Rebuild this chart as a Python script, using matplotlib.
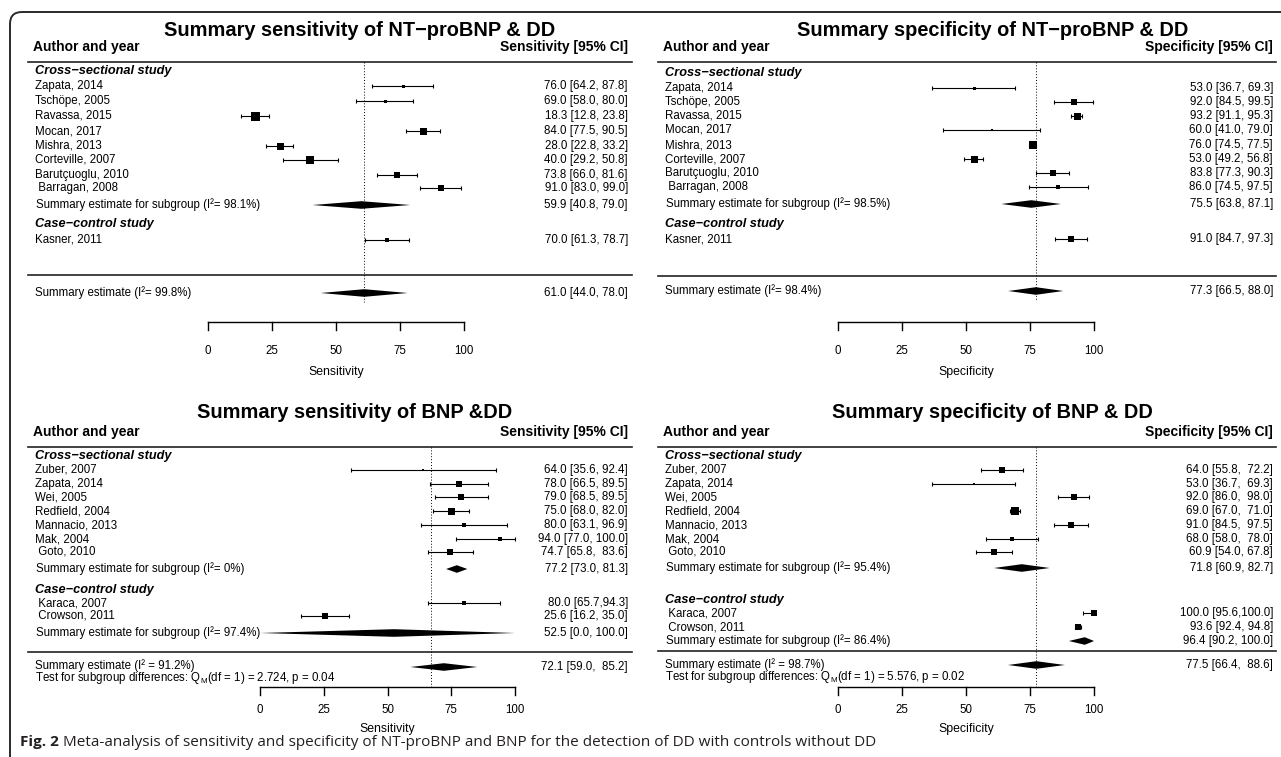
import numpy as np
import matplotlib.pyplot as plt
from matplotlib.patches import Polygon, FancyBboxPatch

plt.rcParams['font.family'] = ['Liberation Sans', 'DejaVu Sans']
plt.rcParams['mathtext.fontset'] = 'custom'
plt.rcParams['mathtext.rm'] = 'Liberation Sans'
plt.rcParams['mathtext.it'] = 'Liberation Sans:italic'

W, H = 1281, 757

# ---------------- data ----------------
# NT-proBNP studies (cross-sectional + case-control)
nt_names = ["Zapata, 2014", "Tschöpe, 2005", "Ravassa, 2015", "Mocan, 2017",
            "Mishra, 2013", "Corteville, 2007", "Barutçuoglu, 2010", " Barragan, 2008",
            "Kasner, 2011"]
nt_groups = [0, 0, 0, 0, 0, 0, 0, 0, 1]

nt_sens_est = [76.0, 69.0, 18.3, 84.0, 28.0, 40.0, 73.8, 91.0, 70.0]
nt_sens_lo = [64.2, 58.0, 12.8, 77.5, 22.8, 29.2, 66.0, 83.0, 61.3]
nt_sens_hi = [87.8, 80.0, 23.8, 90.5, 33.2, 50.8, 81.6, 99.0, 78.7]
nt_sens_labels = ["76.0 [64.2, 87.8]", "69.0 [58.0, 80.0]", "18.3 [12.8, 23.8]",
                  "84.0 [77.5, 90.5]", "28.0 [22.8, 33.2]", "40.0 [29.2, 50.8]",
                  "73.8 [66.0, 81.6]", "91.0 [83.0, 99.0]", "70.0 [61.3, 78.7]"]
nt_sens_sub = [(59.9, 40.8, 79.0, "98.1%", "59.9 [40.8, 79.0]")]
nt_sens_all = (61.0, 44.0, 78.0, "99.8%", "61.0 [44.0, 78.0]")

nt_spec_est = [53.0, 92.0, 93.2, 60.0, 76.0, 53.0, 83.8, 86.0, 91.0]
nt_spec_lo = [36.7, 84.5, 91.1, 41.0, 74.5, 49.2, 77.3, 74.5, 84.7]
nt_spec_hi = [69.3, 99.5, 95.3, 79.0, 77.5, 56.8, 90.3, 97.5, 97.3]
nt_spec_labels = ["53.0 [36.7, 69.3]", "92.0 [84.5, 99.5]", "93.2 [91.1, 95.3]",
                  "60.0 [41.0, 79.0]", "76.0 [74.5, 77.5]", "53.0 [49.2, 56.8]",
                  "83.8 [77.3, 90.3]", "86.0 [74.5, 97.5]", "91.0 [84.7, 97.3]"]
nt_spec_sub = [(75.5, 63.8, 87.1, "98.5%", "75.5 [63.8, 87.1]")]
nt_spec_all = (77.3, 66.5, 88.0, "98.4%", "77.3 [66.5, 88.0]")

# BNP studies
bnp_names = ["Zuber, 2007", "Zapata, 2014", "Wei, 2005", "Redfield, 2004",
             "Mannacio, 2013", "Mak, 2004", " Goto, 2010", " Karaca, 2007", " Crowson, 2011"]
bnp_groups = [0, 0, 0, 0, 0, 0, 0, 1, 1]

bnp_sens_est = [64.0, 78.0, 79.0, 75.0, 80.0, 94.0, 74.7, 80.0, 25.6]
bnp_sens_lo = [35.6, 66.5, 68.5, 68.0, 63.1, 77.0, 65.8, 65.7, 16.2]
bnp_sens_hi = [92.4, 89.5, 89.5, 82.0, 96.9, 100.0, 83.6, 94.3, 35.0]
bnp_sens_labels = ["64.0 [35.6, 92.4]", "78.0 [66.5, 89.5]", "79.0 [68.5, 89.5]",
                   "75.0 [68.0, 82.0]", "80.0 [63.1, 96.9]", "94.0 [77.0, 100.0]",
                   "74.7 [65.8,  83.6]", "80.0 [65.7,94.3]", "25.6 [16.2, 35.0]"]
bnp_sens_sub = [(77.2, 73.0, 81.3, "0%", "77.2 [73.0, 81.3]"),
                (52.5, 0.0, 100.0, "97.4%", "52.5 [0.0, 100.0]")]
bnp_sens_all = (72.1, 59.0, 85.2, "91.2%", "72.1 [59.0,  85.2]")
bnp_sens_ref = 67.0
bnp_sens_test = ("2.724", "0.04")

bnp_spec_est = [64.0, 53.0, 92.0, 69.0, 91.0, 68.0, 60.9, 100.0, 93.6]
bnp_spec_lo = [55.8, 36.7, 86.0, 67.0, 84.5, 58.0, 54.0, 95.6, 92.4]
bnp_spec_hi = [72.2, 69.3, 98.0, 71.0, 97.5, 78.0, 67.8, 100.0, 94.8]
bnp_spec_labels = ["64.0 [55.8,  72.2]", "53.0 [36.7,  69.3]", "92.0 [86.0,  98.0]",
                   "69.0 [67.0,  71.0]", "91.0 [84.5,  97.5]", "68.0 [58.0,  78.0]",
                   "60.9 [54.0, 67.8]", "100.0 [95.6,100.0]", "93.6 [92.4, 94.8]"]
bnp_spec_sub = [(71.8, 60.9, 82.7, "95.4%", "71.8 [60.9, 82.7]"),
                (96.4, 90.2, 100.0, "86.4%", "96.4 [90.2, 100.0]")]
bnp_spec_all = (77.5, 66.4, 88.6, "98.7%", "77.5 [66.4,  88.6]")
bnp_spec_test = ("5.576", "0.02")

group_titles = ["Cross\u2212sectional study", "Case\u2212control study"]
ticks = [0, 25, 50, 75, 100]

# box sizes (px) for the study squares
box_nt_sens = [3, 3, 9, 7, 7, 8, 6, 6, 4]
box_nt_spec = [3, 6, 7, 2, 8, 7, 6, 5, 6]
box_bnp_sens = [2, 6, 6, 7, 5, 4, 6, 5, 6]
box_bnp_spec = [6, 2, 6, 8, 6, 4, 6, 6, 6]

FS = 8.3

fig = plt.figure(figsize=(W / 100, H / 100), dpi=100)
bg = fig.add_axes([0, 0, 1, 1])
bg.set_xlim(0, W)
bg.set_ylim(H, 0)
bg.axis('off')
bg.add_patch(FancyBboxPatch((10, 12), 1400, 800, boxstyle="round,pad=0,rounding_size=12",
                            fill=False, ec='#2a2a2a', lw=1.4))


def forest(geo, lay, title, hdr, xlab, names, groups, est, lo, hi, labels, boxes,
           subs, overall, ref=None, test=None):
    x0, x100, title_x, left_x, right_x, rule_l, rule_r = geo
    s = (x100 - x0) / 100.0

    def v(px):
        return (px - x0) / s

    ax = fig.add_axes([0, 0, 1, 1])
    ax.set_xlim(v(0), v(W))
    ax.set_ylim(H, 0)
    ax.axis('off')
    ax.patch.set_alpha(0)

    ax.text(v(title_x), lay['title'], title, ha='center', va='center',
            fontsize=14.4, fontweight='bold')
    ax.text(v(left_x), lay['hdr'], "Author and year", ha='left', va='center',
            fontsize=10, fontweight='bold')
    ax.text(v(right_x), lay['hdr'], hdr, ha='right', va='center',
            fontsize=10, fontweight='bold')
    for yy in (lay['rule'], lay['rule2']):
        ax.plot([v(rule_l), v(rule_r)], [yy, yy], color='#222222', lw=1.2)

    if ref is None:
        ref = overall[0]
    ax.plot([ref, ref], [lay['rule'], lay['ref_end']], color='k', lw=0.7, ls=(0, (1, 2)))

    for g, gy in enumerate(lay['groups']):
        ax.text(v(left_x + 2), gy, group_titles[g], ha='left', va='center',
                fontsize=9.2, fontweight='bold', style='italic')

    for i, yy in enumerate(lay['rows']):
        ax.text(v(left_x + 2), yy, names[i], ha='left', va='center', fontsize=FS)
        ax.text(v(right_x), yy, labels[i], ha='right', va='center', fontsize=FS)
        ax.errorbar(est[i], yy, xerr=[[est[i] - lo[i]], [hi[i] - est[i]]], fmt='none',
                    ecolor='k', elinewidth=0.8, capsize=1.6, capthick=0.8)
        ax.scatter([est[i]], [yy], marker='s', s=(boxes[i] * 0.72) ** 2, color='k',
                   linewidths=0, zorder=3)

    hh = 3.8
    for (m, l, h, i2, lab), yy in zip(subs, lay['subs']):
        ax.add_patch(Polygon([(l, yy), (m, yy - hh), (h, yy), (m, yy + hh)],
                             closed=True, color='k', lw=0))
        ax.text(v(left_x + 3), yy, "Summary estimate for subgroup (I\u00b2= %s)" % i2,
                ha='left', va='center', fontsize=FS)
        ax.text(v(right_x), yy, lab, ha='right', va='center', fontsize=FS)

    m, l, h, i2, lab = overall
    oy = lay['overall']
    ax.add_patch(Polygon([(l, oy), (m, oy - hh), (h, oy), (m, oy + hh)],
                         closed=True, color='k', lw=0))
    ax.text(v(right_x), oy, lab, ha='right', va='center', fontsize=FS)
    if test is None:
        ax.text(v(left_x + 2), lay['overall_txt'], "Summary estimate (I\u00b2= %s)" % i2,
                ha='left', va='center', fontsize=FS)
    else:
        ax.text(v(left_x + 2), lay['overall_txt'], "Summary estimate (I\u00b2 = %s)" % i2,
                ha='left', va='center', fontsize=FS)
        ax.text(v(left_x + 2), lay['test'],
                r"Test for subgroup differences: $\mathregular{Q_{M}}$(df = 1) = %s, p = %s" % test,
                ha='left', va='center', fontsize=FS)

    ay = lay['axis']
    ax.plot([ticks[0], ticks[-1]], [ay, ay], color='k', lw=1.0)
    for t in ticks:
        ax.plot([t, t], [ay, ay + 8], color='k', lw=1.0)
        ax.text(t, lay['ticklab'], str(t), ha='center', va='center', fontsize=FS)
    ax.text(50, lay['xlab'], xlab, ha='center', va='center', fontsize=8.8)


top_lay_l = dict(title=30, hdr=47, rule=62, groups=[71, 224],
                 rows=[86, 101, 116, 131, 146, 160, 175, 188, 240],
                 subs=[205], rule2=275, overall=293, overall_txt=293,
                 axis=322, ticklab=351, xlab=372, ref_end=302)
top_lay_r = dict(title=30, hdr=47, rule=62, groups=[73, 224],
                 rows=[88, 102, 116, 130, 145, 159, 173, 187, 239],
                 subs=[204], rule2=276, overall=291, overall_txt=291,
                 axis=322, ticklab=351, xlab=372, ref_end=300)
bot_lay_l = dict(title=413, hdr=432, rule=447, groups=[456, 590],
                 rows=[470, 484, 497, 511, 525, 539, 552, 603, 616],
                 subs=[569, 633], rule2=652, overall=667, overall_txt=666, test=678,
                 axis=687, ticklab=710, xlab=729, ref_end=687)
bot_lay_r = dict(title=413, hdr=432, rule=447, groups=[456, 600],
                 rows=[470, 484, 497, 511, 525, 539, 552, 613, 627],
                 subs=[568, 641], rule2=651, overall=665, overall_txt=665, test=677,
                 axis=687, ticklab=710, xlab=729, ref_end=687)

geo_tl = (208, 464, 360, 33, 628, 28, 632)
geo_tr = (838, 1094, 993, 663, 1273, 658, 1276)
geo_bl = (260, 515, 355, 33, 628, 28, 632)
geo_br = (838, 1094, 992, 663, 1273, 658, 1276)

forest(geo_tl, top_lay_l, "Summary sensitivity of NT\u2212proBNP & DD", "Sensitivity [95% CI]",
       "Sensitivity", nt_names, nt_groups, nt_sens_est, nt_sens_lo, nt_sens_hi,
       nt_sens_labels, box_nt_sens, nt_sens_sub, nt_sens_all)
forest(geo_tr, top_lay_r, "Summary specificity of NT\u2212proBNP & DD", "Specificity [95% CI]",
       "Specificity", nt_names, nt_groups, nt_spec_est, nt_spec_lo, nt_spec_hi,
       nt_spec_labels, box_nt_spec, nt_spec_sub, nt_spec_all)
forest(geo_bl, bot_lay_l, "Summary sensitivity of BNP &DD", "Sensitivity [95% CI]",
       "Sensitivity", bnp_names, bnp_groups, bnp_sens_est, bnp_sens_lo, bnp_sens_hi,
       bnp_sens_labels, box_bnp_sens, bnp_sens_sub, bnp_sens_all, ref=bnp_sens_ref,
       test=bnp_sens_test)
forest(geo_br, bot_lay_r, "Summary specificity of BNP & DD", "Specificity [95% CI]",
       "Specificity", bnp_names, bnp_groups, bnp_spec_est, bnp_spec_lo, bnp_spec_hi,
       bnp_spec_labels, box_bnp_spec, bnp_spec_sub, bnp_spec_all, test=bnp_spec_test)

# caption
cap1 = bg.text(20, 742, "Fig. 2", ha='left', va='center', fontsize=11,
               fontweight='bold', family='Open Sans', color='#231f20')
fig.canvas.draw()
bb = cap1.get_window_extent()
bg.text(bb.x1 + 4, 742, "Meta-analysis of sensitivity and specificity of NT-proBNP and BNP "
        "for the detection of DD with controls without DD", ha='left', va='center',
        fontsize=11, family='Open Sans', color='#231f20')

fig.savefig("out.png", dpi=100)
